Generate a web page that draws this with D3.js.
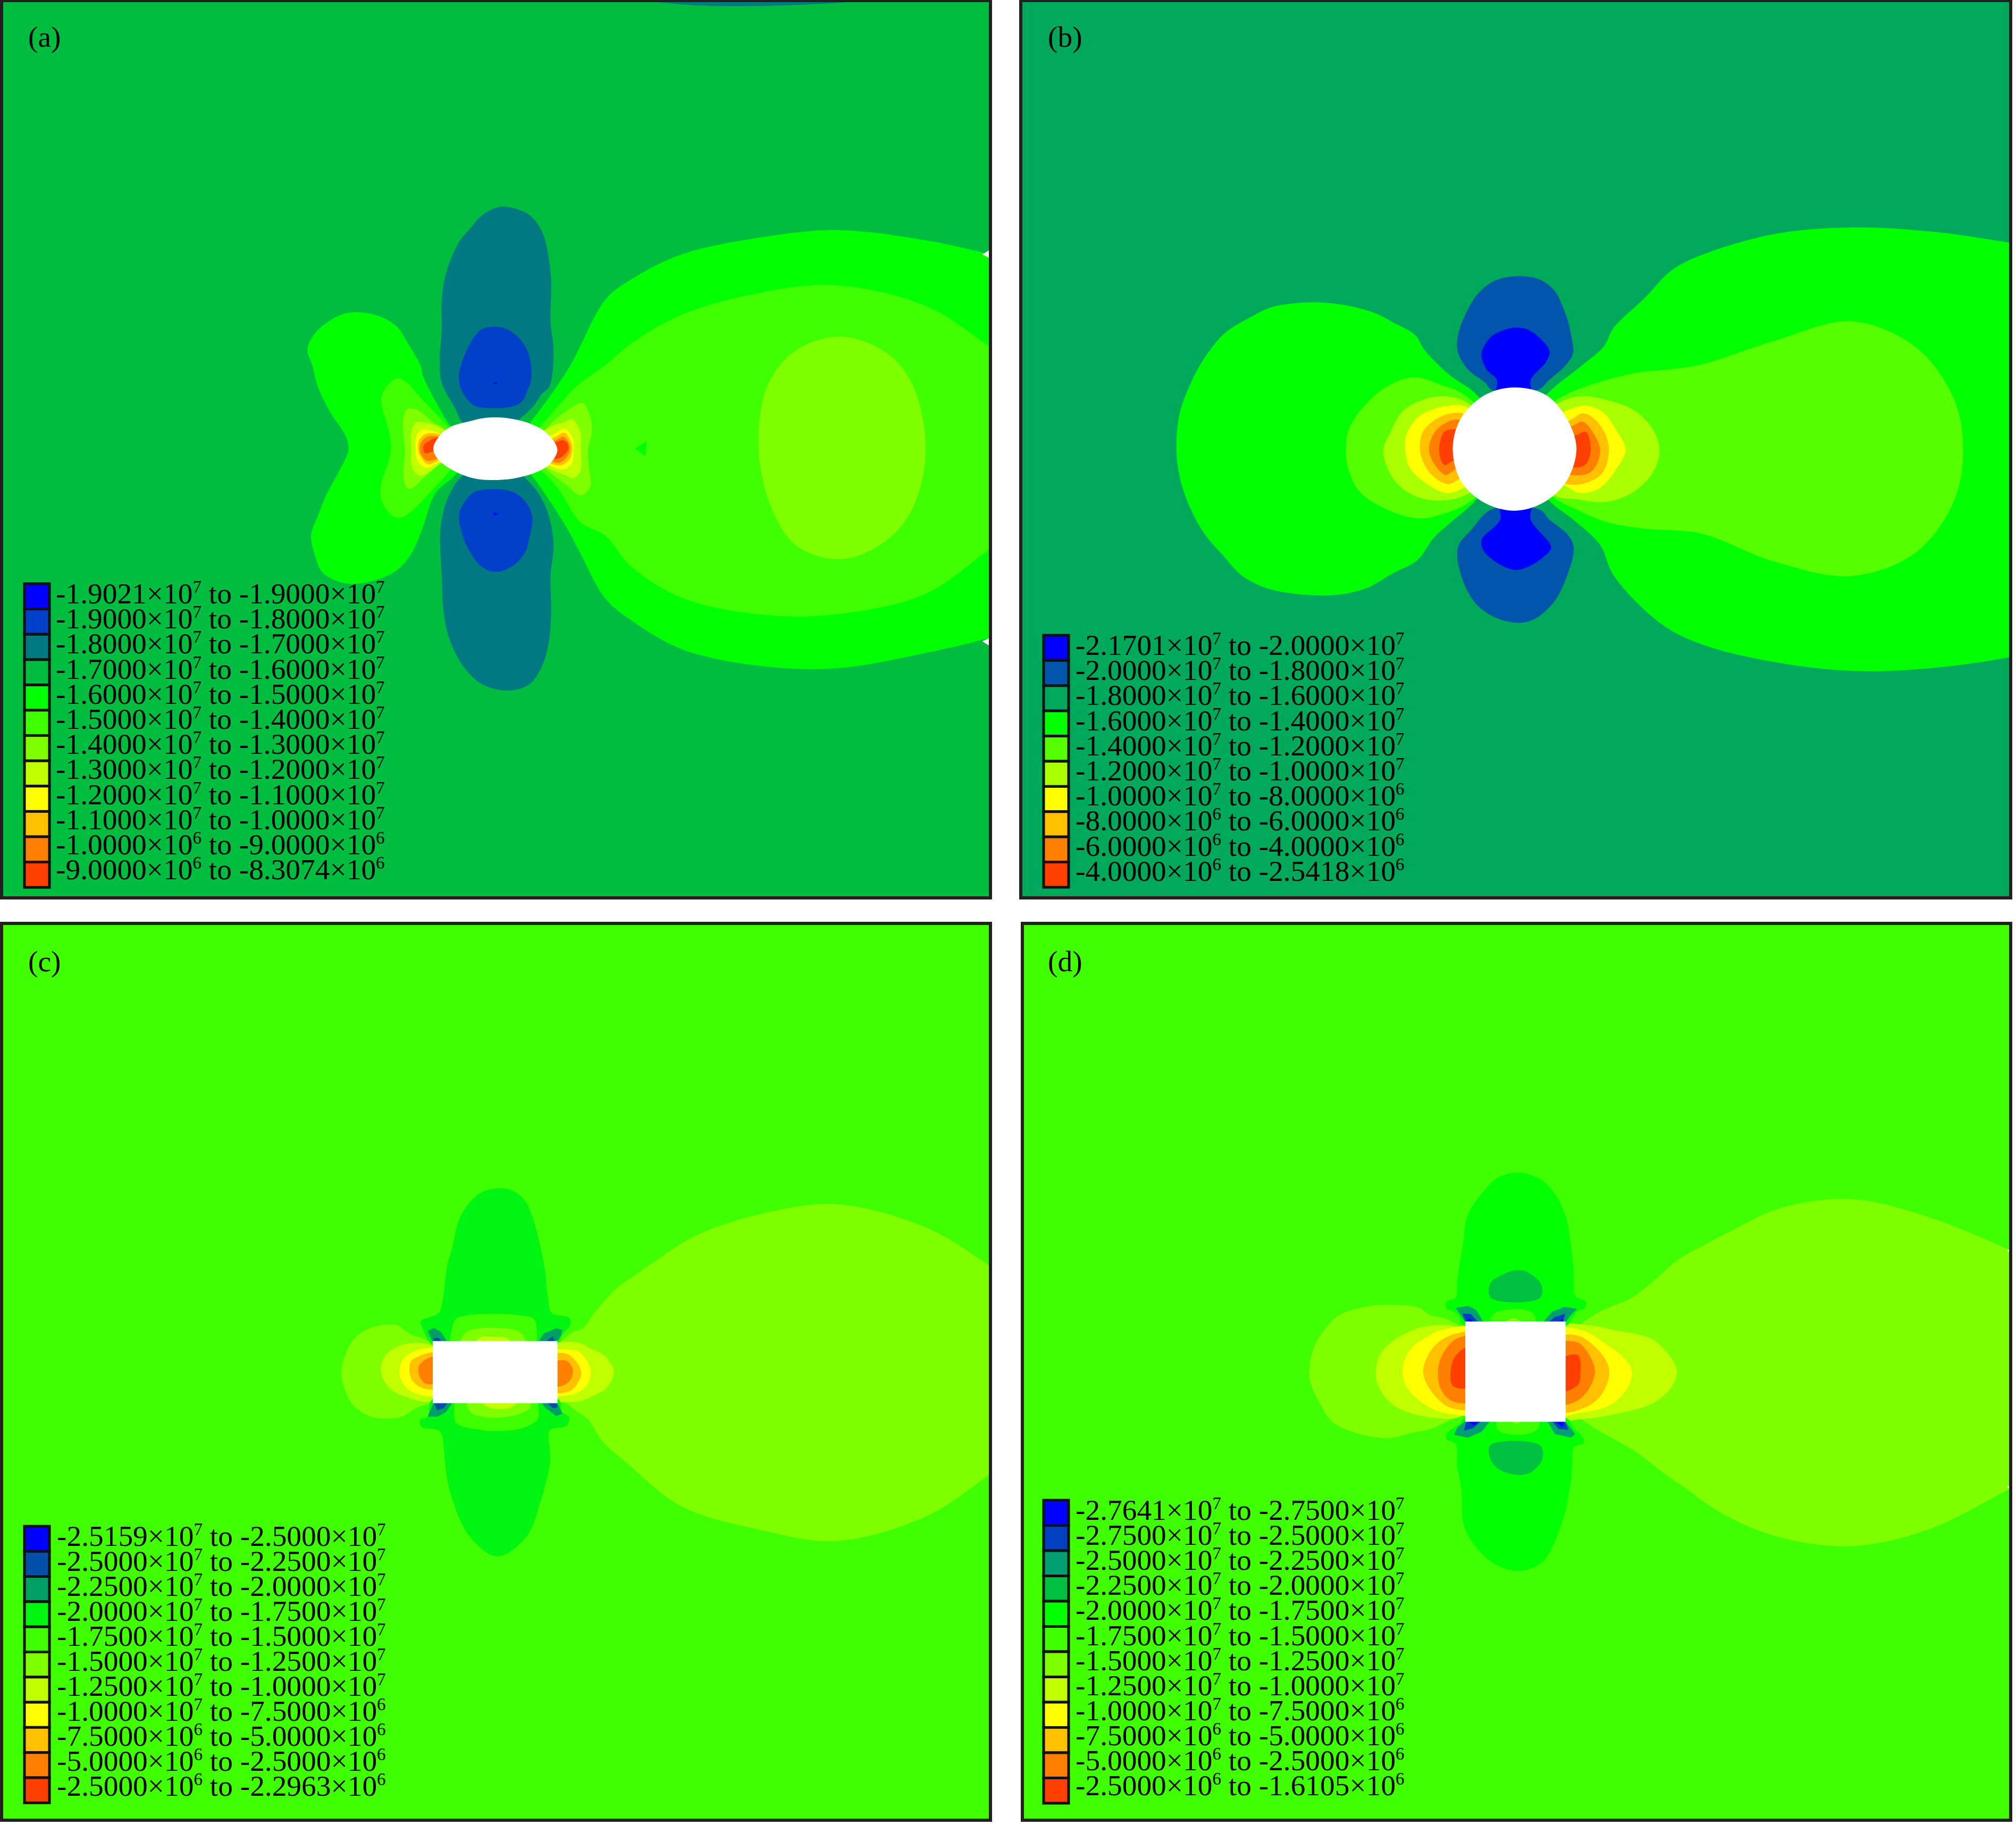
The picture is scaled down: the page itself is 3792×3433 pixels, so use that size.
<!DOCTYPE html>
<meta charset="utf-8">
<style>
body { margin: 0; background: #fff; }
svg { display: block; }
text { font-family: "Liberation Serif", serif; font-size: 55.4px; fill: #000; white-space: pre; }
.frame { fill: none; stroke: #231f20; stroke-width: 6px; }
.swatch { stroke: #111; stroke-width: 5px; }
</style>
<body>
<div id="chart"></div>
<script src="https://d3js.org/d3.v7.min.js"></script>
<script>
var full = {x: 0, y: 0, w: 3792, h: 3433, dw: 1568, dh: 1420};
var cropA = {x: 540, y: 350, w: 600, h: 1000, dw: 1568, dh: 1568};
var cropA2 = {x: 700, y: 700, w: 500, h: 300, dw: 1500, dh: 900};
var cropB = {x: 2200, y: 480, w: 1000, h: 750, dw: 1568, dh: 1568};
var cropC = {x: 640, y: 2200, w: 600, h: 550, dw: 1568, dh: 1568};
var cropD = {x: 2450, y: 2200, w: 800, h: 600, dw: 1568, dh: 1568};

// band colours, lowest stress first
var colorsA = ["#0000ff", "#0040c8", "#007a80", "#00bd40", "#00ff00", "#40ff00", "#80ff00", "#c0ff00", "#ffff00", "#ffc000", "#ff8000", "#ff4000"];
var colorsB = ["#0000ff", "#0055aa", "#00a85a", "#00ff00", "#55ff00", "#aaff00", "#ffff00", "#ffc000", "#ff8000", "#ff4000"];
var colorsC = ["#0000ff", "#0050aa", "#00a064", "#00f510", "#40ff00", "#80ff00", "#bfff00", "#ffff00", "#ffc000", "#ff8000", "#ff4000"];
var colorsD = ["#0000ff", "#0040c0", "#00a070", "#00c040", "#00ff00", "#40ff00", "#80ff00", "#c0ff00", "#ffff00", "#ffc000", "#ff8000", "#ff4000"];

// legend labels: from, exponent, to, exponent
var labelsA = [["-1.9021",7,"-1.9000",7],["-1.9000",7,"-1.8000",7],["-1.8000",7,"-1.7000",7],["-1.7000",7,"-1.6000",7],["-1.6000",7,"-1.5000",7],["-1.5000",7,"-1.4000",7],["-1.4000",7,"-1.3000",7],["-1.3000",7,"-1.2000",7],["-1.2000",7,"-1.1000",7],["-1.1000",7,"-1.0000",7],["-1.0000",6,"-9.0000",6],["-9.0000",6,"-8.3074",6]];
var labelsB = [["-2.1701",7,"-2.0000",7],["-2.0000",7,"-1.8000",7],["-1.8000",7,"-1.6000",7],["-1.6000",7,"-1.4000",7],["-1.4000",7,"-1.2000",7],["-1.2000",7,"-1.0000",7],["-1.0000",7,"-8.0000",6],["-8.0000",6,"-6.0000",6],["-6.0000",6,"-4.0000",6],["-4.0000",6,"-2.5418",6]];
var labelsC = [["-2.5159",7,"-2.5000",7],["-2.5000",7,"-2.2500",7],["-2.2500",7,"-2.0000",7],["-2.0000",7,"-1.7500",7],["-1.7500",7,"-1.5000",7],["-1.5000",7,"-1.2500",7],["-1.2500",7,"-1.0000",7],["-1.0000",7,"-7.5000",6],["-7.5000",6,"-5.0000",6],["-5.0000",6,"-2.5000",6],["-2.5000",6,"-2.2963",6]];
var labelsD = [["-2.7641",7,"-2.7500",7],["-2.7500",7,"-2.5000",7],["-2.5000",7,"-2.2500",7],["-2.2500",7,"-2.0000",7],["-2.0000",7,"-1.7500",7],["-1.7500",7,"-1.5000",7],["-1.5000",7,"-1.2500",7],["-1.2500",7,"-1.0000",7],["-1.0000",7,"-7.5000",6],["-7.5000",6,"-5.0000",6],["-5.0000",6,"-2.5000",6],["-2.5000",6,"-1.6105",6]];

// panel (a) outlines
var aTopSliver = [[480,-3],[700,-3],[640,3],[540,4]];
var aLobeRight = [[800,207],[770,198],[720,187],[650,179],[590,185],[530,198],[490,218],[471,233],[442,287],[413,328],[395,349],[413,369],[441,411],[451,430],[471,466],[490,482],[530,505],[590,518],[650,520],[720,508],[770,496],[800,485],[830,350]];
var aLobeLeft = [[100,483],[130,440],[190,405],[290,375],[420,378],[535,412],[600,470],[660,535],[665,555],[730,635],[805,710],[900,770],[830,850],[730,905],[665,1010],[610,1085],[535,1135],[420,1165],[290,1172],[175,1140],[135,1085],[118,1030],[150,975],[190,915],[290,800],[302,775],[290,740],[210,665],[150,590],[125,530]];
var aWingRight = [[800,292],[770,270],[720,238],[650,222],[590,228],[530,245],[490,268],[471,284],[449,300],[434,316],[421,331],[405,349],[421,366],[434,380],[451,406],[471,417],[490,440],[530,465],[590,478],[650,478],[720,462],[770,427],[800,405],[830,350]];
var aWingLeft = [[465,620],[490,590],[540,567],[590,580],[650,620],[730,670],[800,715],[900,770],[800,840],[700,905],[620,955],[560,978],[510,970],[460,920],[462,880],[510,780],[490,700],[465,650]];
var aOval = [[655,262],[690,275],[710,300],[720,350],[710,395],[690,420],[655,435],[620,425],[600,395],[590,350],[597,300],[620,272]];
var aSpot = [[494,349],[503,343],[502,355]];
var aBands = {
  left80: [[175,270],[190,215],[210,205],[260,215],[340,280],[410,325],[500,440],[380,520],[300,590],[210,660],[180,620],[185,430],[175,350]],
  leftC0: [[220,340],[250,285],[300,285],[405,325],[500,440],[380,520],[320,565],[270,585],[225,540],[222,430]],
  leftY: [[248,370],[270,330],[310,325],[385,350],[500,440],[375,510],[305,540],[255,500],[245,430]],
  leftC: [[265,385],[300,350],[375,350],[500,430],[372,500],[315,520],[275,480],[260,440]],
  left8: [[275,400],[310,365],[375,365],[500,430],[365,490],[310,500],[280,470],[270,440]],
  left4: [[290,415],[320,390],[372,368],[500,430],[355,445],[300,458],[290,440]],
  right80: [[1230,250],[1190,175],[1150,185],[1000,300],[900,440],[975,540],[1100,640],[1175,695],[1230,650],[1225,550],[1218,440],[1240,340]],
  rightC0: [[1175,340],[1130,265],[1090,280],[985,320],[900,440],[985,535],[1100,585],[1130,600],[1175,560],[1178,440]],
  rightY: [[1135,380],[1090,320],[1030,345],[900,440],[1000,525],[1080,548],[1130,510],[1135,440]],
  rightC: [[1125,400],[1085,342],[1035,365],[900,440],[1010,515],[1070,525],[1115,490],[1130,440]],
  right8: [[1115,410],[1080,365],[1035,385],[900,440],[1020,505],[1060,510],[1105,470],[1115,440]],
  right4: [[1100,400],[1075,385],[1040,395],[900,440],[1025,490],[1070,478],[1107,435]]
};
var aTealTop = [[1090,62],[1190,85],[1250,130],[1280,190],[1298,280],[1295,400],[1310,485],[1290,590],[1250,615],[1210,650],[1140,690],[1030,760],[860,695],[830,660],[760,580],[750,510],[760,430],[760,340],[780,260],[840,170],[900,125],[960,85],[1040,62]];
var aTealBottom = [[860,855],[790,920],[760,985],[752,1040],[760,1145],[770,1260],[800,1340],[870,1420],[960,1470],[1090,1488],[1190,1470],[1250,1420],[1285,1350],[1298,1260],[1295,1150],[1310,1060],[1290,980],[1250,920],[1170,860],[1030,790]];
var aBlueTop = [[1030,415],[1090,425],[1150,455],[1190,500],[1200,570],[1180,605],[1155,635],[1110,650],[930,650],[880,625],[845,575],[865,510],[950,425]];
var aBlueBottom = [[930,900],[1100,900],[1170,930],[1205,975],[1190,1040],[1170,1080],[1110,1120],[1030,1138],[960,1125],[900,1080],[865,1035],[845,970],[880,925]];
var aDotTop = [[1015,581],[1025,578],[1035,581],[1025,584]];
var aDotBottom = [[1010,967],[1025,963],[1040,967],[1025,971]];
var aHole = [[345,430],[380,360],[440,310],[540,280],[640,258],[750,258],[890,290],[980,340],[1045,435],[1010,510],[950,555],[800,600],[640,608],[540,590],[440,545],[370,490]];
var aNick1 = [[764,198],[772,193],[772,202]];
var aNick2 = [[764,499],[772,495],[772,504]];

// panel (b) outlines
var bLobeLeft = [[430,185],[510,195],[600,225],[660,265],[725,315],[750,370],[820,465],[910,555],[1000,760],[905,960],[830,1050],[780,1110],[730,1200],[660,1250],[580,1310],[500,1335],[430,1338],[300,1315],[215,1262],[160,1185],[108,1105],[70,1020],[35,900],[20,770],[30,620],[60,510],[100,410],[160,310],[230,250],[300,205],[360,190]];
var bLobeRight = [[2700,10],[2503,-43],[2238,-94],[2010,-109],[1783,-83],[1568,0],[1480,60],[1400,170],[1310,285],[1280,360],[1210,440],[1112,548],[1000,760],[1115,960],[1200,1050],[1270,1140],[1310,1260],[1450,1450],[1568,1530],[1783,1600],[2010,1635],[2238,1625],[2503,1574],[2700,1500],[2800,765]];
var bWingRight = [[1568,430],[1470,450],[1390,460],[1290,490],[1200,530],[1130,580],[1000,760],[1130,950],[1200,1000],[1290,1050],[1400,1075],[1568,1095],[1783,1205],[2010,1262],[2200,1170],[2313,968],[2340,765],[2313,564],[2200,361],[2010,260],[1783,337]];
var bRings = {
  left55: [[720,480],[800,510],[870,550],[1000,760],[895,960],[800,1020],[730,1035],[640,1000],[560,930],[525,830],[520,770],[530,680],[590,570],[650,510]],
  leftAa: [[800,555],[870,575],[1000,760],[885,935],[800,965],[720,945],[660,880],[630,770],[650,700],[690,610],[745,570]],
  leftY: [[820,592],[880,600],[1000,760],[860,920],[815,935],[760,900],[710,840],[695,770],[700,700],[740,630]],
  leftC: [[830,622],[870,625],[1000,760],[855,880],[820,900],[770,860],[740,780],[745,700],[780,650]],
  left8: [[830,650],[860,650],[1000,760],[845,840],[815,865],[785,830],[765,765],[785,690]],
  left4: [[810,695],[845,685],[1000,760],[835,810],[810,825],[795,770]],
  rightAa: [[1000,760],[1135,590],[1210,555],[1290,570],[1370,610],[1425,685],[1445,770],[1425,855],[1370,930],[1290,970],[1200,960],[1135,945]],
  rightY: [[1000,760],[1165,615],[1230,592],[1280,620],[1318,690],[1345,765],[1318,840],[1270,915],[1210,935],[1160,900]],
  rightC: [[1000,760],[1180,650],[1220,622],[1265,660],[1295,750],[1280,850],[1240,890],[1170,900]],
  right8: [[1000,760],[1190,670],[1218,655],[1250,700],[1270,770],[1245,850],[1190,865]],
  right4: [[1000,760],[1195,710],[1228,695],[1242,770],[1225,825],[1195,835]]
};
var bBandTop = [[1020,83],[1090,95],[1135,140],[1170,240],[1185,320],[1190,385],[1170,430],[1120,490],[1085,530],[950,530],[930,500],[880,450],[850,380],[850,320],[870,240],[910,150],[960,100]];
var bBandBottom = [[950,1000],[1090,1000],[1120,1040],[1175,1100],[1192,1150],[1175,1250],[1130,1370],[1060,1440],[980,1435],[910,1380],[865,1280],[850,1150],[890,1080]];
var bBlueTop = [[1018,285],[1060,295],[1120,375],[1110,420],[1065,490],[1065,560],[965,560],[965,490],[935,450],[920,390],[945,325],[985,295]];
var bBlueBottom = [[975,970],[1065,970],[1065,1040],[1125,1150],[1100,1190],[1050,1230],[1015,1238],[960,1205],[925,1160],[920,1120],[975,1040]];
var bHole = [[1018,520],[1110,550],[1170,640],[1200,760],[1170,890],[1100,975],[1018,1005],[930,975],[860,890],[835,760],[860,640],[930,550]];

// panel (c) outlines
var cLobeRight = [[800,1005],[770,985],[720,955],[650,937],[590,945],[540,962],[513,979],[493,993],[481,1001],[462,1022],[454,1033],[443,1038],[420,1068],[447,1097],[457,1104],[469,1122],[486,1137],[530,1172],[590,1190],[650,1199],[720,1180],[770,1147],[800,1125],[820,1068]];
var cLeft80 = [[260,832],[290,840],[340,880],[440,925],[560,1085],[455,1240],[380,1275],[300,1325],[160,1328],[70,1270],[30,1200],[5,1090],[30,980],[75,900],[160,845]];
var cLeftC0 = [[360,930],[450,945],[560,1085],[455,1240],[340,1225],[240,1170],[200,1080],[220,1000],[280,950]];
var cLeftY = [[390,965],[480,965],[480,1205],[390,1208],[320,1165],[290,1085],[310,1015],[345,985]];
var cLeftC = [[430,985],[480,985],[480,1170],[415,1175],[360,1140],[340,1080],[350,1025],[390,1000]];
var cLeft8 = [[435,1010],[480,1005],[480,1140],[420,1148],[390,1110],[385,1060],[400,1035]];
var cRightC0 = [[1040,945],[1130,925],[1175,930],[1240,965],[1300,1000],[1345,1085],[1310,1170],[1240,1215],[1160,1245],[1040,1225]];
var cRightY = [[1040,975],[1115,965],[1170,975],[1215,1030],[1232,1090],[1210,1160],[1160,1200],[1110,1212],[1040,1205]];
var cRightC = [[1040,1000],[1110,987],[1160,1030],[1185,1090],[1170,1140],[1130,1188],[1040,1188]];
var cRight8 = [[1040,1040],[1110,1025],[1140,1060],[1140,1110],[1110,1150],[1040,1160]];
var cTopLobe = [[780,100],[850,115],[910,170],[955,290],[985,420],[1005,530],[1020,680],[1040,770],[1125,795],[1130,835],[1095,880],[1050,950],[470,950],[440,925],[405,850],[395,815],[470,780],[490,760],[510,650],[525,520],[550,420],[580,280],[620,200],[690,125]];
var cBottomBody = [[455,1230],[1070,1230],[1090,1300],[1125,1330],[1110,1375],[1030,1400],[1030,1500],[1032,1565],[981,1792],[918,1965],[773,2075],[634,1965],[539,1724],[515,1568],[510,1500],[490,1405],[400,1380],[395,1340],[430,1325]];
var cTop40 = [[550,950],[550,850],[570,800],[650,778],[750,775],[850,778],[950,800],[965,850],[950,950]];
var cTop80 = [[590,950],[610,880],[680,852],[780,850],[860,860],[900,890],[908,950]];
var cTopC0 = [[650,950],[690,900],[760,898],[820,905],[855,950]];
var cBot40 = [[575,1230],[560,1300],[570,1360],[680,1395],[780,1402],[900,1385],[970,1340],[975,1290],[960,1230]];
var cBot80 = [[625,1230],[640,1300],[700,1325],[790,1330],[880,1310],[930,1280],[930,1230]];
var cBotC0 = [[680,1230],[730,1275],[790,1285],[850,1270],[875,1230]];
var cClusters = [
  [2, [[430,865],[460,850],[495,870],[530,930],[460,930],[445,905]]],
  [2, [[970,930],[1000,880],[1060,852],[1092,860],[1085,890],[1062,930]]],
  [1, [[455,930],[460,905],[480,900],[510,930]]],
  [1, [[1000,930],[1045,895],[1058,930]]],
  [2, [[460,1245],[555,1245],[520,1300],[480,1325],[430,1325]]],
  [2, [[985,1245],[1065,1245],[1092,1310],[1062,1322],[1010,1280]]],
  [1, [[460,1245],[530,1245],[510,1280],[475,1290]]],
  [1, [[1010,1245],[1065,1245],[1068,1275],[1045,1280]]]
];
var cHole = [[455,920],[1068,1253]];

// panel (d) outlines
var dLobeRight = [[1600,990],[1564,973],[1500,947],[1440,933],[1385,940],[1344,959],[1325,969],[1304,981],[1288,995],[1269,1010],[1250,1018],[1237,1025],[1190,1068],[1237,1109],[1256,1120],[1273,1130],[1294,1146],[1311,1158],[1335,1175],[1380,1195],[1440,1203],[1500,1190],[1564,1158],[1600,1140],[1620,1068]];
var dLeft80 = [[430,680],[470,715],[540,740],[780,990],[500,1260],[400,1295],[320,1320],[210,1300],[110,1240],[60,1140],[30,1050],[25,990],[40,880],[80,790],[130,720],[230,675],[320,665]];
var dLeftC0 = [[460,770],[590,785],[720,990],[590,1210],[480,1220],[350,1170],[290,1090],[270,1000],[290,900],[360,820]];
var dLeftY = [[510,790],[650,785],[650,1190],[520,1195],[440,1145],[380,1060],[370,970],[400,880],[450,830]];
var dLeftC = [[570,805],[650,805],[650,1165],[545,1170],[480,1100],[445,1000],[460,920],[500,850]];
var dLeft8 = [[570,830],[650,825],[650,1130],[555,1140],[510,1080],[500,980],[520,900]];
var dLeft4 = [[575,900],[650,850],[650,1058],[555,1065],[550,960]];
var dRightC0 = [[930,775],[1050,765],[1150,790],[1290,835],[1360,930],[1380,990],[1360,1070],[1290,1150],[1160,1200],[1040,1225],[930,1220]];
var dRightY = [[930,790],[1030,790],[1110,850],[1180,920],[1215,990],[1195,1080],[1130,1160],[1030,1195],[930,1200]];
var dRightC = [[930,835],[1010,815],[1085,880],[1130,980],[1110,1090],[1050,1165],[930,1185]];
var dRight8 = [[930,865],[1015,850],[1060,920],[1078,995],[1050,1090],[1000,1145],[930,1150]];
var dRight4 = [[930,950],[1015,912],[1025,1000],[1015,1060],[930,1095]];
var dTopLobe = [[800,15],[880,50],[930,120],[970,230],[990,380],[1000,500],[1005,620],[1045,650],[1040,680],[1010,700],[1000,720],[970,770],[600,770],[570,710],[530,680],[530,650],[565,630],[570,550],[590,380],[610,220],[660,120],[720,40]];
var dBottomLobe = [[600,1220],[970,1220],[1000,1270],[1035,1320],[1035,1345],[1000,1365],[995,1450],[985,1568],[956,1738],[885,1928],[795,1973],[696,1928],[600,1770],[585,1568],[570,1450],[565,1350],[530,1325],[530,1300],[580,1250]];
var dSpotTop = [[790,495],[830,505],[880,565],[875,632],[695,632],[692,560],[740,515]];
var dSpotBottom = [[692,1355],[875,1355],[885,1420],[840,1490],[785,1500],[720,1470],[692,1420]];
var dTop40 = [[695,770],[700,715],[750,690],[820,690],[855,715],[855,770]];
var dTop80 = [[730,770],[780,730],[820,770]];
var dBot40 = [[720,1220],[720,1280],[760,1300],[830,1300],[870,1270],[865,1220]];
var dBot80 = [[755,1220],[790,1250],[820,1220]];
var dClusters = [
  [2, [[565,680],[610,670],[640,690],[672,760],[605,760],[575,700]]],
  [1, [[590,708],[620,710],[655,760],[605,760]]],
  [0, [[612,730],[642,760],[605,760]]],
  [2, [[880,760],[920,700],[965,675],[1012,685],[990,715],[965,760]]],
  [1, [[900,760],[930,725],[968,708],[960,760]]],
  [0, [[930,760],[960,735],[960,760]]],
  [2, [[605,1230],[695,1230],[660,1290],[610,1318],[558,1305],[570,1270]]],
  [1, [[605,1230],[665,1230],[630,1270],[595,1285]]],
  [0, [[605,1230],[660,1230],[630,1258]]],
  [2, [[900,1230],[965,1230],[1005,1300],[990,1318],[930,1300]]],
  [1, [[915,1230],[965,1230],[980,1280],[945,1275]]],
  [0, [[920,1230],[965,1230],[960,1265]]]
];
var dHole = [[600,747],[970,1240]];
var dNick1 = [[1561,973],[1568,969],[1568,978]];
var dNick2 = [[1561,1157],[1568,1153],[1568,1162]];

var panels = [
  {name: "(a)", box: [0, 0, 1866, 1690], labelX: 53, labelY: 88, colors: colorsA, labels: labelsA, bg: 3,
   legend: {x: 46, y: 1098, row: 47.6, textX: 105, textRow: 47.2},
   regions: [[full,aTopSliver,2],[full,aLobeRight,4],[cropA,aLobeLeft,4],[cropA,aWingLeft,5],[full,aWingRight,5],[full,aOval,6],[full,aSpot,4,1],
     [cropA2,aBands.left80,6],[cropA2,aBands.leftC0,7],[cropA2,aBands.leftY,8],[cropA2,aBands.leftC,9],[cropA2,aBands.left8,10],[cropA2,aBands.left4,11],
     [cropA2,aBands.right80,6],[cropA2,aBands.rightC0,7],[cropA2,aBands.rightY,8],[cropA2,aBands.rightC,9],[cropA2,aBands.right8,10],[cropA2,aBands.right4,11],
     [cropA,aTealTop,2],[cropA,aTealBottom,2],[cropA,aBlueTop,1],[cropA,aBlueBottom,1],[cropA,aDotTop,0,1],[cropA,aDotBottom,0,1]],
   holes: [[cropA2,aHole],[full,aNick1,1],[full,aNick2,1]]},
  {name: "(b)", box: [1917, 0, 3785, 1690], labelX: 1971, labelY: 88, colors: colorsB, labels: labelsB, bg: 2,
   legend: {x: 1963, y: 1195, row: 47.4, textX: 2023, textRow: 47.2},
   regions: [[cropB,bLobeLeft,3],[cropB,bLobeRight,3],[cropB,bWingRight,4],[cropB,bRings.left55,4],[cropB,bRings.leftAa,5],[cropB,bRings.leftY,6],[cropB,bRings.leftC,7],[cropB,bRings.left8,8],[cropB,bRings.left4,9],
     [cropB,bRings.rightAa,5],[cropB,bRings.rightY,6],[cropB,bRings.rightC,7],[cropB,bRings.right8,8],[cropB,bRings.right4,9],
     [cropB,bBandTop,1],[cropB,bBandBottom,1],[cropB,bBlueTop,0],[cropB,bBlueBottom,0]],
   holes: [[cropB,bHole]]},
  {name: "(c)", box: [0, 1736, 1866, 3425], labelX: 53, labelY: 1827, colors: colorsC, labels: labelsC, bg: 4,
   legend: {x: 46, y: 2871, row: 47.3, textX: 107, textRow: 47},
   regions: [[full,cLobeRight,5],[cropC,cLeft80,5],[cropC,cLeftC0,6],[cropC,cLeftY,7],[cropC,cLeftC,8],[cropC,cLeft8,9],[cropC,cRightC0,6],[cropC,cRightY,7],[cropC,cRightC,8],[cropC,cRight8,9],
     [cropC,cTopLobe,3],[cropC,cBottomBody,3],[cropC,cTop40,4],[cropC,cTop80,5],[cropC,cTopC0,6],[cropC,cBot40,4],[cropC,cBot80,5],[cropC,cBotC0,6]]
     .concat(cClusters.map(function(d) { return [cropC, d[1], d[0], 1]; })),
   rects: [[cropC,cHole]]},
  {name: "(d)", box: [1920, 1736, 3785, 3425], labelX: 1971, labelY: 1827, colors: colorsD, labels: labelsD, bg: 5,
   legend: {x: 1963, y: 2822, row: 47.5, textX: 2023, textRow: 47.1},
   regions: [[full,dLobeRight,6],[cropD,dLeft80,6],[cropD,dLeftC0,7],[cropD,dLeftY,8],[cropD,dLeftC,9],[cropD,dLeft8,10],[cropD,dLeft4,11],[cropD,dRightC0,7],[cropD,dRightY,8],[cropD,dRightC,9],[cropD,dRight8,10],[cropD,dRight4,11],
     [cropD,dTopLobe,4],[cropD,dBottomLobe,4],[cropD,dSpotTop,3],[cropD,dSpotBottom,3],[cropD,dTop40,5],[cropD,dTop80,6],[cropD,dBot40,5],[cropD,dBot80,6]]
     .concat(dClusters.map(function(d) { return [cropD, d[1], d[0], 1]; })),
   holes: [[full,dNick1,1],[full,dNick2,1]], rects: [[cropD,dHole]]}
];

var svg = d3.select("#chart").append("svg").attr("width", 3792).attr("height", 3433);

function scales(c) {
  return {
    x: d3.scaleLinear().domain([0, c.dw]).range([c.x, c.x + c.w]),
    y: d3.scaleLinear().domain([0, c.dh]).range([c.y, c.y + c.h])
  };
}
function outline(c, pts, straight) {
  var s = scales(c);
  return d3.line()
    .x(function(d) { return s.x(d[0]); })
    .y(function(d) { return s.y(d[1]); })
    .curve(straight ? d3.curveLinearClosed : d3.curveCatmullRomClosed.alpha(0.5))(pts);
}

panels.forEach(function(p, pi) {
  var w = p.box[2] - p.box[0], h = p.box[3] - p.box[1];
  svg.append("clipPath").attr("id", "clip" + pi).append("rect")
    .attr("x", p.box[0]).attr("y", p.box[1]).attr("width", w).attr("height", h);
  var g = svg.append("g").attr("clip-path", "url(#clip" + pi + ")");
  g.append("rect").attr("x", p.box[0]).attr("y", p.box[1]).attr("width", w).attr("height", h)
    .attr("fill", p.colors[p.bg]);

  g.selectAll("path.band").data(p.regions).enter().append("path")
    .attr("class", "band")
    .attr("d", function(d) { return outline(d[0], d[1], d[3]); })
    .attr("fill", function(d) { return p.colors[d[2]]; });

  g.selectAll("path.hole").data(p.holes || []).enter().append("path")
    .attr("class", "hole")
    .attr("d", function(d) { return outline(d[0], d[1], d[2]); })
    .attr("fill", "#fff");

  g.selectAll("rect.hole").data(p.rects || []).enter().append("rect")
    .attr("class", "hole")
    .attr("x", function(d) { return scales(d[0]).x(d[1][0][0]); })
    .attr("y", function(d) { return scales(d[0]).y(d[1][0][1]); })
    .attr("width", function(d) { var s = scales(d[0]); return s.x(d[1][1][0]) - s.x(d[1][0][0]); })
    .attr("height", function(d) { var s = scales(d[0]); return s.y(d[1][1][1]) - s.y(d[1][0][1]); })
    .attr("fill", "#fff");

  svg.append("rect").attr("class", "frame")
    .attr("x", p.box[0] + 3).attr("y", p.box[1] + 1).attr("width", w - 6).attr("height", h - 2);

  svg.append("text").attr("x", p.labelX).attr("y", p.labelY).text(p.name);

  // legend
  var rowY = d3.scaleLinear().domain([0, p.labels.length]).range([p.legend.y, p.legend.y + p.labels.length * p.legend.row]);
  var textY = d3.scaleLinear().domain([0, p.labels.length]).range([p.legend.y + 37, p.legend.y + 37 + p.labels.length * p.legend.textRow]);
  var lg = svg.append("g");
  lg.selectAll("rect").data(p.labels).enter().append("rect")
    .attr("class", "swatch")
    .attr("x", p.legend.x).attr("width", 47)
    .attr("y", function(d, i) { return rowY(i); })
    .attr("height", p.legend.row)
    .attr("fill", function(d, i) { return p.colors[i]; });
  lg.selectAll("text").data(p.labels).enter().append("text")
    .attr("x", p.legend.textX)
    .attr("y", function(d, i) { return textY(i); })
    .each(function(d) {
      var t = d3.select(this);
      t.append("tspan").text(d[0] + "\u00d710");
      t.append("tspan").attr("dy", -20).style("font-size", "33px").text(d[1]);
      t.append("tspan").attr("dy", 20).text(" to " + d[2] + "\u00d710");
      t.append("tspan").attr("dy", -20).style("font-size", "33px").text(d[3]);
    });
});
</script>
</body>
